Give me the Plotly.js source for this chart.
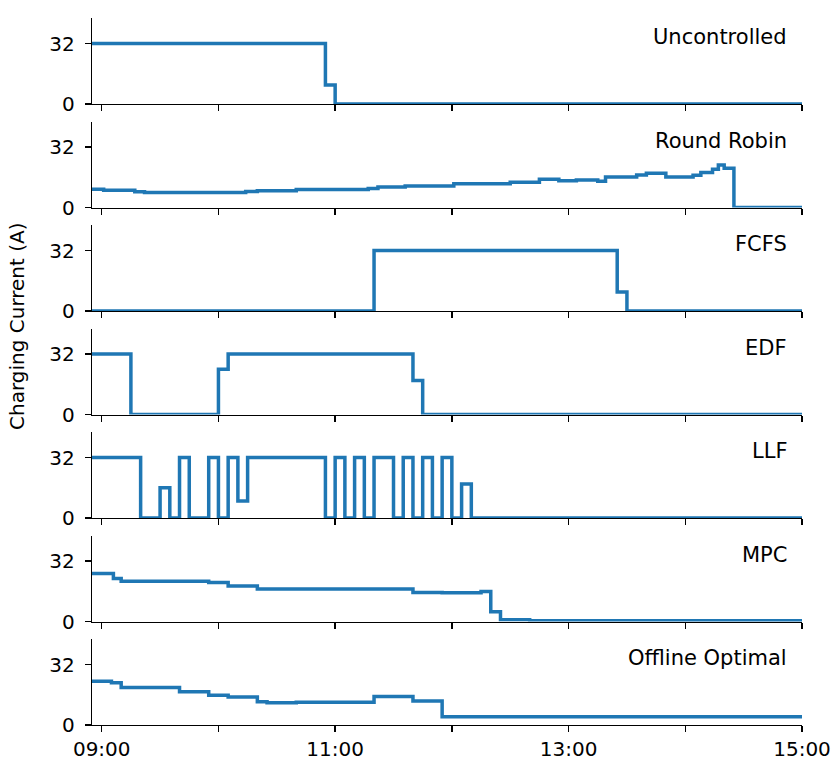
<!DOCTYPE html>
<html>
<head>
<meta charset="utf-8">
<script src="https://cdn.plot.ly/plotly-3.0.1.min.js"></script>
<style>html,body{margin:0;padding:0;background:#fff;}#chart{width:831px;height:773px;}</style>
</head>
<body>
<div id="chart"></div>
<script>
const DAY = '2020-01-01 ';
const panelNames = ['Uncontrolled', 'Round Robin', 'FCFS', 'EDF', 'LLF', 'MPC', 'Offline Optimal'];

const uncontrolledTimes = ['08:55', '10:55', '11:00', '15:00'];
const uncontrolledValues = [32, 10, 0, 0];

const roundRobinTimes = ['08:55', '09:01', '09:17', '09:22', '10:14', '10:20', '10:40', '11:17', '11:22', '11:36', '12:01', '12:30', '12:45', '12:55', '13:04', '13:15', '13:19', '13:35', '13:40', '13:50', '14:04', '14:08', '14:14', '14:17', '14:20', '14:25', '15:00'];
const roundRobinValues = [9.7, 9.1, 8.3, 7.9, 8.4, 8.8, 9.5, 10.0, 10.9, 11.4, 12.5, 13.4, 14.9, 14.1, 14.6, 13.9, 16.2, 17.2, 18.1, 16.2, 17.0, 18.5, 20.2, 22.5, 20.7, 0, 0];

const fcfsTimes = ['08:55', '11:20', '13:25', '13:30', '15:00'];
const fcfsValues = [0, 32, 10, 0, 0];

const edfTimes = ['08:55', '09:15', '10:00', '10:05', '11:40', '11:45', '15:00'];
const edfValues = [32, 0, 24, 32, 18, 0, 0];

const llfTimes = ['08:55', '09:20', '09:30', '09:35', '09:40', '09:45', '09:55', '10:00', '10:05', '10:10', '10:15', '10:55', '11:00', '11:05', '11:10', '11:15', '11:20', '11:30', '11:35', '11:40', '11:45', '11:50', '11:55', '12:00', '12:05', '12:10', '15:00'];
const llfValues = [32, 0, 16, 0, 32, 0, 32, 0, 32, 9, 32, 0, 32, 0, 32, 0, 32, 0, 32, 0, 32, 0, 32, 0, 18, 0, 0];

const mpcTimes = ['08:55', '09:06', '09:10', '09:55', '10:05', '10:20', '11:40', '11:55', '12:15', '12:20', '12:25', '12:40', '15:00'];
const mpcValues = [25.4, 22.7, 21.3, 20.6, 18.8, 17.2, 15.4, 15.2, 15.9, 5.2, 0.9, 0.4, 0.4];

const offlineTimes = ['08:55', '09:05', '09:10', '09:40', '09:55', '10:05', '10:20', '10:25', '10:40', '11:20', '11:40', '11:55', '15:00'];
const offlineValues = [23.2, 22.3, 19.9, 17.6, 15.8, 14.8, 12.3, 11.8, 12.1, 15.1, 12.7, 4.4, 4.4];

const xTickTimes = ['09:00', '10:00', '11:00', '12:00', '13:00', '14:00', '15:00'];
const xTickLabels = ['09:00', '', '11:00', '', '13:00', '', '15:00'];
const yTickValues = [0, 32];
const yTickLabels = ['0', '32'];
const yTitle = 'Charging Current (A)';

const series = [
  [uncontrolledTimes, uncontrolledValues],
  [roundRobinTimes, roundRobinValues],
  [fcfsTimes, fcfsValues],
  [edfTimes, edfValues],
  [llfTimes, llfValues],
  [mpcTimes, mpcValues],
  [offlineTimes, offlineValues]
];

const FONT = 'DejaVu Sans, sans-serif';
const plotTop = 18, plotBottom = 725, panelStep = 103.5, panelH = 86;
const totalH = plotBottom - plotTop;

const traces = [];
const layout = {
  width: 831, height: 773,
  margin: {l: 92, r: 29, t: 18, b: 48},
  paper_bgcolor: '#fff', plot_bgcolor: '#fff',
  showlegend: false,
  font: {family: FONT, size: 20, color: '#000'},
  annotations: []
};

series.forEach((s, k) => {
  const n = k + 1;
  const xa = n === 1 ? 'x' : 'x' + n;
  const ya = n === 1 ? 'y' : 'y' + n;
  traces.push({
    type: 'scatter', mode: 'lines',
    x: s[0].map(t => DAY + t), y: s[1],
    line: {shape: 'hv', color: '#1f77b4', width: 3.5},
    xaxis: xa, yaxis: ya, hoverinfo: 'skip'
  });
  const top = plotTop + panelStep * k;
  const bot = top + panelH;
  const d0 = (plotBottom - bot) / totalH;
  const d1 = (plotBottom - top) / totalH;
  const last = k === series.length - 1;
  layout[n === 1 ? 'xaxis' : 'xaxis' + n] = {
    type: 'date', domain: [0, 1], anchor: ya,
    range: [DAY + '08:55', DAY + '15:00'],
    tickvals: xTickTimes.map(t => DAY + t),
    ticktext: xTickLabels,
    showticklabels: last,
    ticks: 'outside', ticklen: 6, tickwidth: 1.3, tickcolor: '#000',
    showline: true, linecolor: '#000', linewidth: 1.3,
    showgrid: false, zeroline: false,
    tickfont: {family: FONT, size: 20, color: '#000'},
    fixedrange: true
  };
  if (n !== 1) layout['xaxis' + n].matches = 'x';
  layout[n === 1 ? 'yaxis' : 'yaxis' + n] = {
    domain: [d0, d1], anchor: xa,
    range: [0, 45.5],
    tickvals: yTickValues, ticktext: yTickLabels,
    ticks: 'outside', ticklen: 6, tickwidth: 1.3, tickcolor: '#000',
    ticklabelstandoff: 6,
    showline: true, linecolor: '#000', linewidth: 1.3,
    showgrid: false, zeroline: false,
    tickfont: {family: FONT, size: 20, color: '#000'},
    fixedrange: true
  };
  layout.annotations.push({
    text: panelNames[k],
    xref: xa + ' domain', yref: ya + ' domain',
    x: 0.982, y: 1 - 19 / panelH,
    xanchor: 'right', yanchor: 'middle',
    showarrow: false,
    font: {family: FONT, size: 21, color: '#000'}
  });
});

layout.annotations.push({
  text: yTitle,
  xref: 'paper', yref: 'paper',
  x: (17 - 92) / 710, y: (plotBottom - 326) / totalH,
  xanchor: 'center', yanchor: 'middle',
  textangle: -90, showarrow: false,
  font: {family: FONT, size: 20, color: '#000'}
});

Plotly.newPlot('chart', traces, layout, {displayModeBar: false, staticPlot: true});
</script>
</body>
</html>
